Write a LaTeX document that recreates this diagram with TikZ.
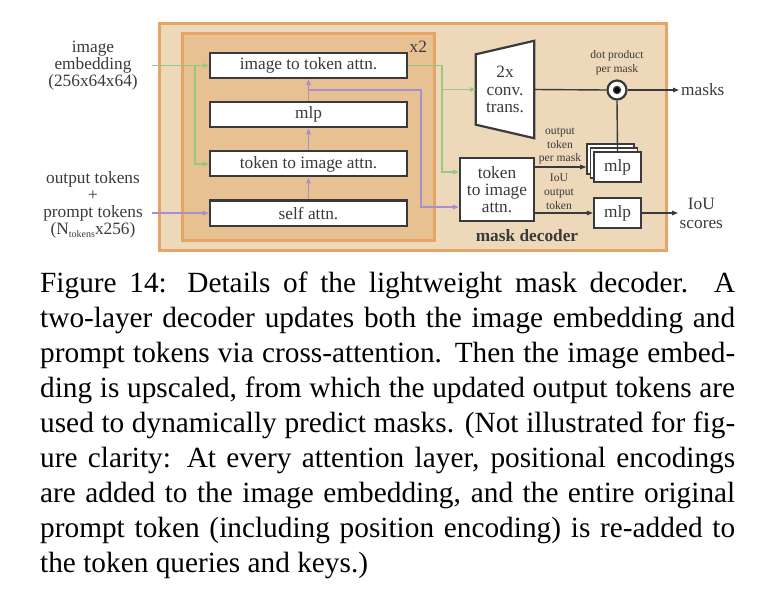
\documentclass[tikz,border=0pt]{standalone}
\usepackage{fontspec}
\setmainfont{Liberation Serif}
\usepackage{tikz}
\usetikzlibrary{arrows.meta,positioning}

\definecolor{decoderfill}{RGB}{237,216,186}
\definecolor{layerfill}{RGB}{232,193,146}
\definecolor{frameorange}{RGB}{230,164,102}
\definecolor{imggreen}{RGB}{150,200,132}
\definecolor{tokpurple}{RGB}{168,143,203}
\definecolor{darkline}{RGB}{58,58,58}

\begin{document}
\begin{tikzpicture}[x=1pt, y=-1pt]
% STYLES
\tikzset{%
    every node/.style={%
    font=\fontsize{17.3}{17}\selectfont,
    text=darkline},
    frame/.style={%
    rectangle,
    draw=frameorange,
    line width=3pt,
    inner sep=0pt},
    block/.style={%
    rectangle,
    draw=darkline,
    fill=white,
    line width=2.2pt,
    inner sep=0pt,
    minimum width=197pt,
    minimum height=25pt},
    mlpbox/.style={%
    block,
    minimum width=47pt,
    minimum height=30pt},
    smalllabel/.style={%
    font=\fontsize{11.6}{13.8}\selectfont,
    align=center,
    inner sep=0pt},
    imgarrow/.style={%
    draw=imggreen,
    line width=1.3pt,
    -{Triangle[length=6pt,width=4.5pt]}},
    tokarrow/.style={%
    imgarrow,
    draw=tokpurple},
    darkarrow/.style={%
    imgarrow,
    draw=darkline},
    darkline/.style={%
    draw=darkline,
    line width=1.4pt}
    }
\useasboundingbox (0,0) rectangle (784,604);

% Draw frames
\node [frame, fill=decoderfill, minimum width=507pt, minimum height=226pt] (decoder) at (412.5,137) {};
\node [frame, fill=layerfill, minimum width=252pt, minimum height=206pt] (layers) at (308,137) {};
\node [anchor=north east] (repeat) at ([xshift=-5pt,yshift=-5pt]layers.north east) {x2};
\node [font=\fontsize{17.3}{17}\selectfont\bfseries] (title) at (527,236) {mask decoder};

% Draw the two-way transformer blocks
\node [block] (itt) at (308.5,65.5) {image to token attn.};
\node [block, below=22pt of itt] (mlp) {mlp};
\node [block, below=22pt of mlp] (tti) {token to image attn.};
\node [block, below=22pt of tti] (sa) {self attn.};

% Draw the inputs
\node [align=center, inner xsep=14pt] (imgemb) at (93,65.5) {image\\embedding\\(256x64x64)};
\node [align=center, inner xsep=9pt] (toklab) at (93,205) {output tokens\\+\\prompt tokens\\(N\raisebox{-3pt}{\fontsize{10}{10}\selectfont tokens}x256)};

% Draw the head
\node [block, minimum width=74pt, minimum height=63pt, align=center] (tti2) at (497,189.5) {token\\to image\\attn.};
\node [minimum width=58pt, minimum height=97pt, inner sep=0pt] (conv) at (505,89.5) {};
\draw [darkline, line width=2.2pt, fill=white] (conv.north east) -- ([yshift=-13.5pt]conv.north west)
    -- ([yshift=13.5pt]conv.south west) -- (conv.south east) -- cycle;
\node [align=center, inner sep=0pt, font=\fontsize{17.3}{17.5}\selectfont] (convtext) at (conv.center) {2x\\conv.\\trans.};
\node [circle, draw=darkline, fill=white, line width=2.2pt, minimum size=19pt, inner sep=0pt] (dot) at (617,90) {};
\fill [darkline] (dot.center) circle (3.5pt);
\node [smalllabel] (dotlab) at (617,63) {dot product\\per mask};
\node [anchor=west, inner sep=2pt] (masks) at (679,90) {masks};

\node [mlpbox, line width=1.6pt] (mlpc) at (610.5,159) {};
\node [mlpbox, line width=1.6pt] (mlpb) at (614,163) {};
\node [mlpbox] (mlpa) at (617.5,167) {mlp};
\node [mlpbox] (iou) at (617.5,213) {mlp};
\node [anchor=west, align=center, inner sep=1.5pt, font=\fontsize{17.3}{19}\selectfont] (scores) at (678,213) {IoU\\scores};
\node [smalllabel] (outlab) at (560,146) {output\\token\\per mask};
\node [smalllabel] (ioulab) at (559,191.5) {IoU\\output\\token};

% Draw the links between blocks
\coordinate (gturn) at (442,172);
\coordinate (pturn) at (421,90);
\draw [imgarrow] (imgemb.east) -- (itt.west);
\draw [imgarrow] ([xshift=-14pt]itt.west) |- (tti.west);
\draw [imgarrow] (itt.east) -| (gturn) -- (gturn -| tti2.west);
\draw [imgarrow] (gturn |- conv.west) -- (conv.west);

\draw [tokarrow] (toklab.east |- sa.west) -- (sa.west);
\draw [tokarrow] (sa.north) -- (tti.south);
\draw [tokarrow] (tti.north) -- (mlp.south);
\draw [tokarrow] (mlp.north) -- (itt.south);
\draw [tokarrow] (mlp.north |- pturn) -- (pturn) |- ([yshift=-17.5pt]tti2.west);

\draw [darkline] (conv.east) -- (dot.west);
\draw [darkarrow] (dot.east) -- (masks.west);
\draw [darkline] (dot.south) -- (mlpa.north);
\draw [darkarrow] (tti2.east |- mlpa.west) -- (mlpc.west |- mlpa.west);
\draw [darkarrow] (tti2.east |- iou.west) -- (iou.west);
\draw [darkarrow] (iou.east) -- (scores.west);

% Caption
\node [anchor=north west, text width=695pt, align=justify, inner sep=0pt, text=black,
    font=\fontsize{29.3}{35}\selectfont] (caption) at (40,272)
    {Figure 14: Details of the lightweight mask decoder. A\linebreak
    two-layer decoder updates both the image embedding and\linebreak
    prompt tokens via cross-attention. Then the image embed-\linebreak
    ding is upscaled, from which the updated output tokens are\linebreak
    used to dynamically predict masks. (Not illustrated for fig-\linebreak
    ure clarity: At every attention layer, positional encodings\linebreak
    are added to the image embedding, and the entire original\linebreak
    prompt token (including position encoding) is re-added to\linebreak
    the token queries and keys.)};
\end{tikzpicture}
\end{document}
